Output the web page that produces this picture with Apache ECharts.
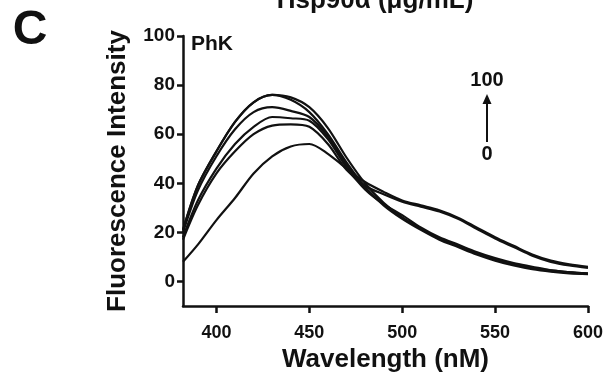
<!DOCTYPE html>
<html>
<head>
<meta charset="utf-8">
<script src="https://cdn.jsdelivr.net/npm/echarts@6/dist/echarts.min.js"></script>
<style>
  html, body { margin: 0; padding: 0; background: #fff; }
  #chart { width: 615px; height: 375px; }
</style>
</head>
<body>
<div id="chart"></div>
<script>
// 波长（nm）
const wavelengths = [382, 390, 400, 410, 420, 430, 440, 450, 460, 470, 480, 490, 500, 510, 520, 530, 540, 550, 560, 570, 580, 590, 600];

// Hsp90α 浓度 0 → 100 μg/mL 的荧光强度
const conc0 = [8, 15, 25, 34, 44, 51, 55, 56, 52, 46, 40.5, 36.5, 33, 31, 29, 26, 22, 18, 14.5, 11, 8.5, 7, 6];
const conc20 = [17, 31, 44, 53, 60, 63.5, 64, 63, 56, 45.5, 39, 35.5, 32.5, 30.5, 28.5, 25.5, 21.5, 17.5, 14, 10.5, 8, 6.5, 5.5];
const conc40 = [18, 33, 46, 56, 63, 67, 66.5, 65.5, 58, 46.5, 37.5, 31.5, 27, 22, 18, 15, 12, 9.5, 7.5, 6, 4.5, 3.8, 3.2];
const conc60 = [20, 37, 51, 62, 69, 71, 69.5, 67, 59, 47.5, 38, 31.5, 26, 21.5, 17.5, 14.5, 11.5, 9, 7, 5.5, 4.5, 3.7, 3.2];
const conc80 = [21, 39, 53, 65, 73, 76, 74, 69, 60, 48.5, 38.5, 31, 25.5, 21, 17, 14, 11, 8.5, 6.5, 5, 4, 3.3, 3];
const conc100 = [21, 39, 53, 65, 73, 76, 75, 71, 62.5, 50.5, 40, 32, 26, 21.5, 17.5, 14.5, 11.5, 9, 7, 5.5, 4.3, 3.6, 3.2];

const seriesNames = ['0', '20', '40', '60', '80', '100'];
const seriesValues = [conc0, conc20, conc40, conc60, conc80, conc100];

// 刻度
const xTicks = [400, 450, 500, 550, 600];
const yTicks = [0, 20, 40, 60, 80, 100];

const font = 'Liberation Sans, Arial, sans-serif';

const chart = echarts.init(document.getElementById('chart'), null, { renderer: 'canvas' });

const option = {
  animation: false,
  backgroundColor: '#fff',
  grid: { left: 183, right: 27, top: 36, bottom: 69, outerBoundsMode: 'none', containLabel: false },
  xAxis: {
    type: 'value',
    min: 382,
    max: 600,
    name: 'Wavelength (nM)',
    nameLocation: 'middle',
    nameGap: 41,
    nameTextStyle: { fontFamily: font, fontWeight: 'bold', fontSize: 26, color: '#111' },
    axisLine: { onZero: false, lineStyle: { color: '#111', width: 2.5 } },
    axisTick: { customValues: xTicks, length: 7, lineStyle: { color: '#111', width: 2.5 } },
    axisLabel: { customValues: xTicks, margin: 18, fontFamily: font, fontWeight: 'bold', fontSize: 18, color: '#111' },
    splitLine: { show: false }
  },
  yAxis: {
    type: 'value',
    min: -10,
    max: 100,
    name: 'Fluorescence Intensity',
    nameLocation: 'middle',
    nameGap: 52,
    nameTextStyle: { fontFamily: font, fontWeight: 'bold', fontSize: 26, color: '#111' },
    axisLine: { show: true, onZero: false, lineStyle: { color: '#111', width: 2.5 } },
    axisTick: { show: true, customValues: yTicks, length: 6, lineStyle: { color: '#111', width: 2.5 } },
    axisLabel: { customValues: yTicks, margin: 8, fontFamily: font, fontWeight: 'bold', fontSize: 19, color: '#111' },
    splitLine: { show: false }
  },
  series: seriesValues.map((vals, i) => ({
    name: seriesNames[i],
    type: 'line',
    data: wavelengths.map((w, j) => [w, vals[j]]),
    smooth: 0.3,
    showSymbol: false,
    lineStyle: { color: '#111', width: 2.2 }
  })),
  graphic: [
    { type: 'text', x: 30, y: 31, style: { text: 'C', fontFamily: font, fontWeight: 'bold', fontSize: 48, fill: '#111', align: 'center', verticalAlign: 'middle' } },
    { type: 'text', x: 375, y: 14, style: { text: 'Hsp90α (μg/mL)', fontFamily: font, fontWeight: 'bold', fontSize: 26, fill: '#111', align: 'center', verticalAlign: 'bottom' } },
    { type: 'text', x: 191, y: 34, style: { text: 'PhK', fontFamily: font, fontWeight: 'bold', fontSize: 21, fill: '#111' } },
    { type: 'text', x: 487, y: 80, style: { text: '100', fontFamily: font, fontWeight: 'bold', fontSize: 20, fill: '#111', align: 'center', verticalAlign: 'middle' } },
    { type: 'text', x: 487, y: 154, style: { text: '0', fontFamily: font, fontWeight: 'bold', fontSize: 20, fill: '#111', align: 'center', verticalAlign: 'middle' } },
    { type: 'line', shape: { x1: 487, y1: 142, x2: 487, y2: 102 }, style: { stroke: '#111', lineWidth: 2 } },
    { type: 'polygon', shape: { points: [[487, 94], [482.5, 104], [491.5, 104]] }, style: { fill: '#111' } }
  ]
};

chart.setOption(option);
</script>
</body>
</html>
